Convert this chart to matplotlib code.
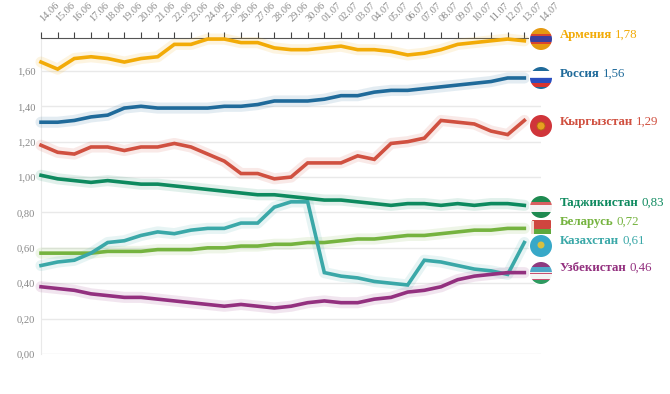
import matplotlib
matplotlib.use('Agg')
import matplotlib.pyplot as plt
import matplotlib.patches as mpatches

plt.rcParams['font.family'] = ['Liberation Serif', 'DejaVu Serif']

dates = ['14.06', '15.06', '16.06', '17.06', '18.06', '19.06', '20.06', '21.06', '22.06', '23.06',
         '24.06', '25.06', '26.06', '27.06', '28.06', '29.06', '30.06', '01.07', '02.07', '03.07',
         '04.07', '05.07', '06.07', '07.07', '08.07', '09.07', '10.07', '11.07', '12.07', '13.07', '14.07']

armenia = [1.65, 1.61, 1.67, 1.68, 1.67, 1.65, 1.67, 1.68, 1.75, 1.75, 1.78, 1.78, 1.76, 1.76, 1.73,
           1.72, 1.72, 1.73, 1.74, 1.72, 1.72, 1.71, 1.69, 1.70, 1.72, 1.75, 1.76, 1.77, 1.78, 1.77]
russia = [1.31, 1.31, 1.32, 1.34, 1.35, 1.39, 1.40, 1.39, 1.39, 1.39, 1.39, 1.40, 1.40, 1.41, 1.43,
          1.43, 1.43, 1.44, 1.46, 1.46, 1.48, 1.49, 1.49, 1.50, 1.51, 1.52, 1.53, 1.54, 1.56, 1.56]
kyrgyzstan = [1.18, 1.14, 1.13, 1.17, 1.17, 1.15, 1.17, 1.17, 1.19, 1.17, 1.13, 1.09, 1.02, 1.02, 0.99,
              1.00, 1.08, 1.08, 1.08, 1.12, 1.10, 1.19, 1.20, 1.22, 1.32, 1.31, 1.30, 1.26, 1.24, 1.32]
tajikistan = [1.01, 0.99, 0.98, 0.97, 0.98, 0.97, 0.96, 0.96, 0.95, 0.94, 0.93, 0.92, 0.91, 0.90, 0.90,
              0.89, 0.88, 0.87, 0.87, 0.86, 0.85, 0.84, 0.85, 0.85, 0.84, 0.85, 0.84, 0.85, 0.85, 0.84]
belarus = [0.57, 0.57, 0.57, 0.57, 0.58, 0.58, 0.58, 0.59, 0.59, 0.59, 0.60, 0.60, 0.61, 0.61, 0.62,
           0.62, 0.63, 0.63, 0.64, 0.65, 0.65, 0.66, 0.67, 0.67, 0.68, 0.69, 0.70, 0.70, 0.71, 0.71]
kazakhstan = [0.50, 0.52, 0.53, 0.57, 0.63, 0.64, 0.67, 0.69, 0.68, 0.70, 0.71, 0.71, 0.74, 0.74, 0.83,
              0.86, 0.86, 0.46, 0.44, 0.43, 0.41, 0.40, 0.39, 0.53, 0.52, 0.50, 0.48, 0.47, 0.45, 0.63]
uzbekistan = [0.38, 0.37, 0.36, 0.34, 0.33, 0.32, 0.32, 0.31, 0.30, 0.29, 0.28, 0.27, 0.28, 0.27, 0.26,
              0.27, 0.29, 0.30, 0.29, 0.29, 0.31, 0.32, 0.35, 0.36, 0.38, 0.42, 0.44, 0.45, 0.46, 0.46]

names = ['Армения', 'Россия', 'Кыргызстан', 'Таджикистан', 'Беларусь', 'Казахстан', 'Узбекистан']
last_labels = ['1,78', '1,56', '1,29', '0,83', '0,72', '0,61', '0,46']
series = [armenia, russia, kyrgyzstan, tajikistan, belarus, kazakhstan, uzbekistan]
colors = ['#F2AB07', '#1F6A9A', '#D05040', '#0E8A5F', '#75B33F', '#3AA8A8', '#93307F']
yticks = [0.0, 0.2, 0.4, 0.6, 0.8, 1.0, 1.2, 1.4, 1.6]

W, H = 670, 394
fig = plt.figure(figsize=(W / 100, H / 100), dpi=100)
ax = fig.add_axes([41 / W, 1 - 354 / H, 500 / W, 316 / H])
ax.set_xlim(0, 30)
ax.set_ylim(0, 1.786)

# grid + axes
ax.set_yticks(yticks)
ax.set_yticklabels([('%.2f' % v).replace('.', ',') for v in yticks], color='#888888', fontsize=7.6)
ax.tick_params(axis='y', length=0, pad=4)
ax.grid(axis='y', color='#e9e9e9', lw=1)
ax.set_axisbelow(True)
for s in ['right', 'bottom']:
    ax.spines[s].set_visible(False)
ax.spines['left'].set_color('#e9e9e9')
ax.spines['top'].set_color('#555555')
ax.spines['top'].set_linewidth(0.8)

ax.xaxis.tick_top()
ax.set_xticks(range(len(dates)))
ax.set_xticklabels(dates, rotation=45, ha='left', va='center', rotation_mode='anchor',
                   color='#888888', fontsize=7.4)
ax.tick_params(axis='x', length=4, width=0.8, color='#444444', pad=9)

for vals, c in zip(series, colors):
    xs = list(range(len(vals)))
    ax.plot(xs, vals, color=c, lw=8, alpha=0.12, clip_on=False, zorder=3, solid_capstyle='round')
    ax.plot(xs, vals, color=c, lw=2.6, clip_on=False, zorder=4, solid_joinstyle='miter')

# flags and end labels are drawn on a pixel overlay
ov = fig.add_axes([0, 0, 1, 1])
ov.set_xlim(0, W)
ov.set_ylim(H, 0)
ov.axis('off')
ov.patch.set_alpha(0)


def flag(cy, stripes):
    clip = mpatches.Circle((541, cy), 11, transform=ov.transData)
    ov.add_patch(mpatches.Circle((541, cy), 12, fc='white', ec='none'))
    y = cy - 11
    for h, c in stripes:
        r = mpatches.Rectangle((530, y), 22, h, fc=c, ec='none')
        ov.add_patch(r)
        r.set_clip_path(clip)
        y += h


flag(39, [(6, '#E59A12'), (2, '#D8452F'), (6, '#3C3F9E'), (2, '#D8452F'), (6, '#E59A12')])
flag(78, [(4, '#1F6A9A'), (6, 'white'), (1, '#DDE4F2'), (5, '#2A4FBF'), (4, '#D8352F'), (2, '#1F6A9A')])
flag(126, [(22, '#D0353A')])
ov.add_patch(mpatches.Circle((541, 126), 4, fc='#E8A020', ec='#B07010', lw=0.6))
flag(207, [(6, '#1E8A50'), (3, '#D86060'), (7, '#F2F2F2'), (6, '#1E8A50')])
# Belarus is a small waving flag, not a round one
ov.add_patch(mpatches.FancyBboxPatch((533, 221), 17, 7, boxstyle='round,pad=1', fc='#D0453F', ec='none'))
ov.add_patch(mpatches.Rectangle((532, 229), 19, 4.5, fc='#5FA83C', ec='none'))
ov.add_patch(mpatches.Rectangle((531, 221), 3, 12.5, fc='#F0D8D0', ec='none'))
flag(246, [(22, '#38A8C8')])
ov.add_patch(mpatches.Circle((541, 245), 3.5, fc='#D8C040', ec='none'))
flag(273, [(5, '#8E3A80'), (5, '#4FA8C8'), (1, '#EEEEEE'), (1, '#C85070'), (5, '#F4F4F4'), (1, '#C85070'), (4, '#2E9A60')])

label_y = [35, 74, 122, 203, 222, 241, 268]
for name, val, c, y in zip(names, last_labels, colors, label_y):
    t = ov.text(560, y, name, color=c, fontsize=9.3, fontweight='bold', va='center', ha='left')
    fig.canvas.draw()
    bb = t.get_window_extent()
    ov.text(bb.x1 + 3, y, val, color=c, fontsize=9.3, va='center', ha='left')

fig.savefig('out.png', dpi=100)
